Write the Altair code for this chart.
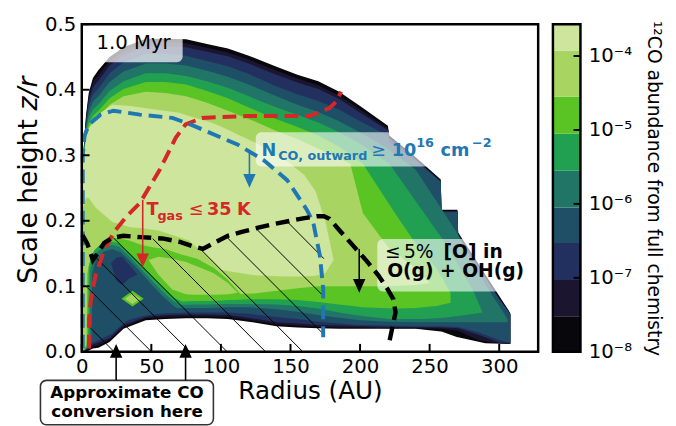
import altair as alt
import pandas as pd

FONT = "DejaVu Sans"
W, H = 464, 333
R_MAX = 328.0
Z_MAX = 0.5
CB_W = 28

XTICKS = [0, 50, 100, 150, 200, 250, 300]
YTICKS = [0.0, 0.1, 0.2, 0.3, 0.4, 0.5]

LEVEL_COLORS = ["#08080c", "#1b1530", "#22305f", "#1e4f66", "#217566",
                "#22a052", "#5ac424", "#a8d462", "#cde59c"]
CBAR_EDGES = [-8.0, -7.52, -7.03, -6.53, -6.05, -5.55, -5.05, -4.55, -3.93, -3.57]
CBAR_TICKS = [-8, -7, -6, -5, -4]
CBAR_LABELS = ["10⁻⁸", "10⁻⁷", "10⁻⁶", "10⁻⁵", "10⁻⁴"]

# ---- filled contour bands (painter order: outer level first) ----
L0_R = [1, 3, 5, 8, 12, 20, 30, 46, 60, 75, 90, 105, 120, 140, 155, 170, 185, 200, 220, 221, 240, 258, 258.5, 270, 270.5, 290, 308]
L0_HI = [0.30, 0.36, 0.395, 0.418, 0.43, 0.45, 0.465, 0.478, 0.478, 0.477, 0.470, 0.463, 0.452, 0.435, 0.423, 0.413, 0.397, 0.375, 0.345, 0.330, 0.297, 0.263, 0.217, 0.217, 0.182, 0.118, 0.059]
L0_LO = [0.0, 0.0, 0.002, 0.005, 0.006, 0.015, 0.035, 0.048, 0.05, 0.051, 0.051, 0.05, 0.046, 0.039, 0.037, 0.036, 0.035, 0.035, 0.035, 0.035, 0.035, 0.031, 0.031, 0.022, 0.022, 0.013, 0.012]

LR = [1, 3, 5, 8, 12, 20, 30, 46, 60, 75, 90, 105, 120, 140, 155, 170, 185, 200, 220, 221, 240, 258, 258.5, 270, 270.5, 285, 300, 308]
L1_HI = [0.298, 0.356, 0.39, 0.412, 0.423, 0.444, 0.459, 0.473, 0.473, 0.471, 0.464, 0.457, 0.446, 0.429, 0.417, 0.407, 0.391, 0.370, 0.341, 0.328, 0.295, 0.261, 0.215, 0.215, 0.180, 0.131, 0.082, 0.057]
L1_LO = [0.0, 0.001, 0.004, 0.008, 0.01, 0.018, 0.038, 0.051, 0.053, 0.054, 0.054, 0.053, 0.049, 0.042, 0.04, 0.038, 0.037, 0.037, 0.036, 0.036, 0.036, 0.035, 0.035, 0.032, 0.032, 0.018, 0.013, 0.012]
L2_HI = [0.296, 0.352, 0.383, 0.404, 0.414, 0.437, 0.453, 0.466, 0.466, 0.465, 0.458, 0.451, 0.440, 0.423, 0.411, 0.401, 0.386, 0.365, 0.338, 0.326, 0.293, 0.260, 0.214, 0.214, 0.179, 0.13, 0.081, 0.057]
L2_LO = [0.0, 0.002, 0.006, 0.011, 0.014, 0.021, 0.041, 0.053, 0.056, 0.057, 0.057, 0.056, 0.052, 0.045, 0.043, 0.041, 0.04, 0.039, 0.038, 0.038, 0.038, 0.037, 0.037, 0.036, 0.036, 0.026, 0.014, 0.013]
L3_HI = [0.294, 0.347, 0.375, 0.393, 0.402, 0.425, 0.442, 0.455, 0.455, 0.452, 0.444, 0.436, 0.424, 0.405, 0.393, 0.383, 0.370, 0.352, 0.330, 0.320, 0.292, 0.259, 0.213, 0.213, 0.178, 0.129, 0.08, 0.057]
L3_LO = [0.0, 0.003, 0.008, 0.014, 0.018, 0.026, 0.046, 0.056, 0.059, 0.06, 0.06, 0.06, 0.058, 0.053, 0.05, 0.046, 0.043, 0.041, 0.04, 0.04, 0.039, 0.039, 0.039, 0.038, 0.038, 0.03, 0.018, 0.014]

L4_R = [1, 3, 5, 8, 12, 20, 30, 46, 60, 75, 90, 105, 120, 140, 155, 170, 185, 200, 220, 240, 258, 270, 285, 300, 306]
L4_HI = [0.292, 0.342, 0.366, 0.382, 0.39, 0.412, 0.428, 0.44, 0.44, 0.437, 0.429, 0.42, 0.408, 0.39, 0.377, 0.366, 0.352, 0.335, 0.31, 0.278, 0.22, 0.18, 0.12, 0.07, 0.05]
L4_LO = [0.0, 0.004, 0.01, 0.017, 0.022, 0.03, 0.052, 0.062, 0.066, 0.067, 0.067, 0.068, 0.068, 0.065, 0.061, 0.056, 0.052, 0.048, 0.046, 0.045, 0.045, 0.045, 0.045, 0.045, 0.045]

L5_R = [1, 3, 5, 8, 12, 20, 30, 46, 60, 75, 90, 105, 120, 140, 155, 170, 185, 200, 221, 246, 260, 272, 282, 288]
L5_HI = [0.29, 0.337, 0.357, 0.37, 0.378, 0.398, 0.413, 0.425, 0.425, 0.421, 0.413, 0.403, 0.39, 0.373, 0.362, 0.35, 0.335, 0.318, 0.287, 0.212, 0.17, 0.127, 0.09, 0.06]
L5_LO = [0.0, 0.005, 0.012, 0.02, 0.026, 0.035, 0.057, 0.067, 0.071, 0.072, 0.072, 0.073, 0.073, 0.072, 0.07, 0.066, 0.06, 0.055, 0.05, 0.05, 0.052, 0.055, 0.058, 0.06]

L6_R = [1, 3, 5, 8, 12, 20, 30, 46, 60, 75, 90, 105, 120, 140, 155, 170, 185, 202, 225, 240, 255, 265]
L6_HI = [0.288, 0.332, 0.348, 0.36, 0.368, 0.387, 0.401, 0.412, 0.412, 0.408, 0.398, 0.387, 0.373, 0.355, 0.343, 0.33, 0.313, 0.287, 0.212, 0.165, 0.127, 0.09]
L6_LO = [0.0, 0.006, 0.014, 0.023, 0.03, 0.04, 0.062, 0.072, 0.076, 0.077, 0.078, 0.079, 0.08, 0.08, 0.079, 0.076, 0.072, 0.068, 0.066, 0.067, 0.07, 0.075]

L7_R = [1, 3, 5, 8, 12, 20, 30, 46, 60, 75, 90, 105, 124, 140, 155, 170, 185, 193, 202, 220, 240, 250]
L7_HI = [0.286, 0.326, 0.342, 0.35, 0.358, 0.377, 0.39, 0.397, 0.395, 0.39, 0.38, 0.368, 0.352, 0.337, 0.325, 0.31, 0.295, 0.287, 0.212, 0.16, 0.127, 0.105]
L7_LO = [0.0, 0.01, 0.03, 0.06, 0.08, 0.085, 0.088, 0.088, 0.087, 0.086, 0.087, 0.088, 0.089, 0.093, 0.097, 0.1, 0.1, 0.1, 0.1, 0.1, 0.102, 0.105]

L8_R = [1, 3, 5, 10, 22, 35, 45, 55, 70, 77, 93, 100, 124, 145, 160, 168, 175, 178, 181]
L8_HI = [0.284, 0.325, 0.34, 0.36, 0.377, 0.375, 0.372, 0.369, 0.365, 0.36, 0.35, 0.344, 0.32, 0.295, 0.27, 0.245, 0.2, 0.17, 0.14]
L8_LO = [0.22, 0.235, 0.235, 0.22, 0.198, 0.19, 0.188, 0.185, 0.175, 0.17, 0.14, 0.125, 0.117, 0.115, 0.115, 0.116, 0.12, 0.13, 0.14]

# depleted island near the midplane
I6_R = [3.5, 4, 6, 8, 11, 15, 24, 34, 43, 52, 60, 71, 83, 95, 105, 115]
I6_HI = [0.01, 0.12, 0.14, 0.15, 0.159, 0.167, 0.174, 0.17, 0.163, 0.159, 0.157, 0.149, 0.142, 0.128, 0.11, 0.086]
I6_LO = [0.01, 0.01, 0.016, 0.023, 0.028, 0.034, 0.05, 0.065, 0.071, 0.074, 0.076, 0.077, 0.078, 0.078, 0.079, 0.08]
P7_R = [48, 55, 65, 75, 80, 95, 105, 112]
P7_HI = [0.14, 0.145, 0.142, 0.137, 0.133, 0.12, 0.105, 0.09]
P7_LO = [0.14, 0.118, 0.095, 0.088, 0.087, 0.087, 0.088, 0.09]
I5_R = [4.5, 5, 7, 9, 14, 22, 26, 34, 42, 50, 58, 66, 74, 80]
I5_HI = [0.012, 0.13, 0.145, 0.155, 0.165, 0.168, 0.166, 0.152, 0.135, 0.117, 0.099, 0.083, 0.075, 0.072]
I5_LO = [0.012, 0.012, 0.017, 0.021, 0.028, 0.04, 0.048, 0.06, 0.065, 0.068, 0.07, 0.071, 0.072, 0.072]
I4_R = [5.5, 6, 8, 10, 15, 22, 27, 34, 42, 50, 58, 66, 74, 78]
I4_HI = [0.014, 0.125, 0.14, 0.15, 0.16, 0.163, 0.16, 0.146, 0.128, 0.11, 0.092, 0.077, 0.069, 0.067]
I4_LO = [0.014, 0.014, 0.018, 0.02, 0.024, 0.035, 0.042, 0.055, 0.06, 0.063, 0.066, 0.067, 0.067, 0.067]
I3_R = [7, 7.5, 9, 11, 16, 22, 28, 34, 42, 50, 58, 66, 72, 76]
I3_HI = [0.014, 0.118, 0.132, 0.142, 0.153, 0.157, 0.152, 0.14, 0.122, 0.103, 0.085, 0.07, 0.062, 0.06]
I3_LO = [0.014, 0.014, 0.015, 0.017, 0.022, 0.028, 0.04, 0.05, 0.054, 0.057, 0.059, 0.06, 0.06, 0.06]
I2_R = [21, 25, 29, 34, 40]
I2_HI = [0.135, 0.144, 0.145, 0.133, 0.118]
I2_LO = [0.135, 0.108, 0.102, 0.112, 0.118]
DIA6_R = [28.5, 36.5, 44.5]
DIA6_HI = [0.081, 0.093, 0.081]
DIA6_LO = [0.081, 0.069, 0.081]
DIA7_R = [31, 36.5, 42]
DIA7_HI = [0.081, 0.089, 0.081]
DIA7_LO = [0.081, 0.073, 0.081]

BANDS = [
    (0, L0_R, L0_LO, L0_HI), (1, LR, L1_LO, L1_HI), (2, LR, L2_LO, L2_HI),
    (3, LR, L3_LO, L3_HI), (4, L4_R, L4_LO, L4_HI), (5, L5_R, L5_LO, L5_HI),
    (6, L6_R, L6_LO, L6_HI), (7, L7_R, L7_LO, L7_HI), (8, L8_R, L8_LO, L8_HI),
    (6, I6_R, I6_LO, I6_HI), (7, P7_R, P7_LO, P7_HI), (5, I5_R, I5_LO, I5_HI),
    (4, I4_R, I4_LO, I4_HI), (3, I3_R, I3_LO, I3_HI), (2, I2_R, I2_LO, I2_HI),
    (6, DIA6_R, DIA6_LO, DIA6_HI), (7, DIA7_R, DIA7_LO, DIA7_HI),
]

# ---- boundary curves ----
RED_R = [5.2, 5.2, 6.4, 9.9, 15.7, 22.8, 32.3, 41.7, 55.8, 67.6, 74.6, 86.4, 120, 164, 178, 183, 186.4]
RED_Z = [0.005, 0.05, 0.077, 0.117, 0.152, 0.182, 0.207, 0.227, 0.277, 0.327, 0.347, 0.357, 0.36, 0.36, 0.372, 0.382, 0.397]
BLUE_R = [0.7, 0.7, 0.7, 2.0, 5.2, 13.4, 22.8, 41.7, 65.2, 79.3, 95.8, 112.3, 131.1, 147.6, 161.7, 166.4, 171.1, 173.5, 173.5]
BLUE_Z = [0.005, 0.15, 0.30, 0.33, 0.347, 0.362, 0.368, 0.362, 0.357, 0.346, 0.331, 0.316, 0.292, 0.262, 0.217, 0.197, 0.147, 0.097, 0.022]
BLACK_R = [0.5, 4, 8, 12, 16, 22, 30, 42, 58, 70, 80, 87, 95, 105, 115, 126, 138, 150, 160, 169, 174, 178, 185, 195, 205, 213, 220, 224, 225.5, 223, 220.5]
BLACK_Z = [0.178, 0.165, 0.14, 0.152, 0.166, 0.174, 0.177, 0.175, 0.173, 0.168, 0.161, 0.157, 0.166, 0.177, 0.183, 0.189, 0.195, 0.2, 0.204, 0.207, 0.207, 0.203, 0.186, 0.162, 0.138, 0.117, 0.095, 0.08, 0.06, 0.035, 0.01]

HATCH_R0 = [4, 4, 10, 22.5, 51, 84.5, 103.5, 125.5, 147]
HATCH_Z0 = [0.0411, 0.0981, 0.1441, 0.1746, 0.1727, 0.1584, 0.1765, 0.1876, 0.2000]
HATCH_R1 = [23.3, 50.1, 77.7, 104.5, 132.1, 158.9, 174, 174, 174]
HATCH_Z1 = [0, 0, 0, 0, 0, 0, 0.0264, 0.0843, 0.1422]

ARROW_R = [43.8, 120.5, 199.4]
ARROW_TOP = [0.232, 0.305, 0.157]
ARROW_HEAD = [0.1394, 0.2609, 0.1005]
ARROW_COL = ["#d62728", "#1f77b4", "#000000"]

UP_R = [24.7, 74.6]
UP_BOTTOM = [-0.0436, -0.0436]
UP_HEAD = [0.0015, 0.0015]

# ---- text annotations ----
MYR_TXT = ["1.0 Myr"]
MYR_R = [10.6]
MYR_Z = [0.4617]
MYR_BOX = [5, 72.5, 0.442, 0.484]

BLUE_TXT = ["N", "CO, outward", "≥", "10", "16", "cm", "−2"]
BLUE_TR = [129.2, 141.2, 208.0, 222.8, 240.3, 257.8, 280.4]
BLUE_TZ = [0.2992, 0.2932, 0.2992, 0.2992, 0.3128, 0.2992, 0.3128]
BLUE_SIZE = [18, 13, 18, 18, 13, 18, 13]
BLUE_BOLD = [True, True, False, True, True, True, True]
BLUE_BOX = [125, 296, 0.283, 0.335]

RED_TXT = ["T", "gas", "≤", "35", "K"]
RED_TR = [46.6, 54.4, 76.8, 90.0, 111.5]
RED_TZ = [0.209, 0.2015, 0.209, 0.209, 0.209]
RED_SIZE = [18, 13, 18, 18, 18]
RED_BOLD = [True, True, False, True, True]

O_TXT = ["≤", "5%", "[O] in", "O(g) + OH(g)"]
O_TR = [218.0, 231.5, 260.0, 219.5]
O_TZ = [0.1429, 0.1429, 0.1429, 0.1143]
O_SIZE = [19, 19, 19, 19]
O_BOLD = [False, False, True, True]
O_BOX = [212.4, 318, 0.092, 0.172]

CONV_TXT = ["Approximate CO", "conversion here"]
CONV_R = [32.5, 32.5]
CONV_Z = [-0.0707, -0.0992]
CONV_BOX = [-29.7, 94.6, -0.1113, -0.0436]

YT_TXT = ["Scale height ", "z/r"]
YT_R = [-32.2, -32.2]
YT_Z = [0.104, 0.3685]

# ---------------------------------------------------------------
XS = alt.Scale(domain=[0, R_MAX], nice=False, zero=False)
YS = alt.Scale(domain=[0, Z_MAX], nice=False, zero=False)
AX_X = alt.Axis(values=XTICKS, title="Radius (AU)", labelFontSize=20, titleFontSize=25,
                labelPadding=5, titlePadding=3, tickSize=0, labelFlush=False, labelOverlap=False)
AX_Y = alt.Axis(values=YTICKS, format=".1f", title=None, labelFontSize=20, labelPadding=6,
                tickSize=0, labelFlush=False, labelOverlap=False)


def X(f):
    return alt.X(f"{f}:Q", scale=XS, axis=AX_X)


def Y(f):
    return alt.Y(f"{f}:Q", scale=YS, axis=AX_Y)


layers = []
for lev, r, lo, hi in BANDS:
    df = pd.DataFrame({"r": r, "lo": lo, "hi": hi})
    layers.append(alt.Chart(df).mark_area(color=LEVEL_COLORS[lev], strokeWidth=0).encode(
        x=X("r"), y=Y("lo"), y2=alt.Y2("hi")))


def box(b, opacity, stroke=None):
    df = pd.DataFrame({"r1": [b[0]], "r2": [b[1]], "z1": [b[2]], "z2": [b[3]]})
    kw = dict(fill="white", fillOpacity=opacity, cornerRadius=6)
    if stroke:
        kw.update(stroke=stroke, strokeWidth=1.6)
    return alt.Chart(df).mark_rect(**kw).encode(
        x=X("r1"), x2=alt.X2("r2"), y=Y("z1"), y2=alt.Y2("z2"))


def texts(txt, r, z, size, color, bold, align="left", style="normal", angle=0):
    df = pd.DataFrame({"t": txt, "r": r, "z": z, "s": size})
    return alt.Chart(df).mark_text(
        align=align, baseline="alphabetic", font=FONT, color=color, angle=angle,
        fontWeight="bold" if bold else "normal", fontStyle=style).encode(
        x=X("r"), y=Y("z"), text="t:N", size=alt.Size("s:Q", scale=None))


def rich(txt, r, z, size, bold, color):
    out = []
    for flag in (True, False):
        idx = [i for i in range(len(txt)) if bold[i] == flag]
        if idx:
            out.append(texts([txt[i] for i in idx], [r[i] for i in idx], [z[i] for i in idx],
                             [size[i] for i in idx], color, flag))
    return out


layers.append(box(MYR_BOX, 0.7))
layers.append(texts(MYR_TXT, MYR_R, MYR_Z, [20], "black", False))

hdf = pd.DataFrame({"r0": HATCH_R0, "z0": HATCH_Z0, "r1": HATCH_R1, "z1": HATCH_Z1})
layers.append(alt.Chart(hdf).mark_rule(color="black", strokeWidth=1).encode(
    x=X("r0"), y=Y("z0"), x2=alt.X2("r1"), y2=alt.Y2("z1")))

layers.append(box(BLUE_BOX, 0.6))
layers.append(box(O_BOX, 0.6))

for r, z, col, w in [(RED_R, RED_Z, "#d62728", 4), (BLUE_R, BLUE_Z, "#1f77b4", 4),
                     (BLACK_R, BLACK_Z, "#000000", 4.5)]:
    df = pd.DataFrame({"r": r, "z": z, "i": list(range(len(r)))})
    layers.append(alt.Chart(df).mark_line(color=col, strokeWidth=w, strokeDash=[14, 7]).encode(
        x=X("r"), y=Y("z"), order="i:Q"))

DOWN = "M -0.9 -1 L 0.9 -1 L 0 1 Z"
UP = "M -0.9 1 L 0.9 1 L 0 -1 Z"
adf = pd.DataFrame({"r": ARROW_R, "top": ARROW_TOP, "head": ARROW_HEAD, "c": ARROW_COL})
layers.append(alt.Chart(adf).mark_rule(strokeWidth=1.6).encode(
    x=X("r"), y=Y("top"), y2=alt.Y2("head"), color=alt.Color("c:N", scale=None)))
layers.append(alt.Chart(adf).mark_point(shape=DOWN, filled=True, size=196, opacity=1).encode(
    x=X("r"), y=Y("head"), color=alt.Color("c:N", scale=None)))

layers += rich(BLUE_TXT, BLUE_TR, BLUE_TZ, BLUE_SIZE, BLUE_BOLD, "#1f77b4")
layers += rich(RED_TXT, RED_TR, RED_TZ, RED_SIZE, RED_BOLD, "#d62728")
layers += rich(O_TXT, O_TR, O_TZ, O_SIZE, O_BOLD, "#000000")

# inward ticks
xt = pd.DataFrame({"r": XTICKS, "z0": [0.0] * len(XTICKS), "z1": [0.012] * len(XTICKS)})
layers.append(alt.Chart(xt).mark_rule(color="black", strokeWidth=2).encode(
    x=X("r"), y=Y("z0"), y2=alt.Y2("z1")))
yt = pd.DataFrame({"z": YTICKS, "r0": [0.0] * len(YTICKS), "r1": [5.6] * len(YTICKS)})
layers.append(alt.Chart(yt).mark_rule(color="black", strokeWidth=2).encode(
    y=Y("z"), x=X("r0"), x2=alt.X2("r1")))

# frame
fdf = pd.DataFrame({"r1": [0.0], "r2": [R_MAX], "z1": [0.0], "z2": [Z_MAX]})
layers.append(alt.Chart(fdf).mark_rect(fillOpacity=0, stroke="black", strokeWidth=2.5).encode(
    x=X("r1"), x2=alt.X2("r2"), y=Y("z1"), y2=alt.Y2("z2")))

# bottom annotation
layers.append(box(CONV_BOX, 1.0, stroke="#333333"))
layers.append(texts(CONV_TXT, CONV_R, CONV_Z, [17, 17], "black", True, align="center"))
udf = pd.DataFrame({"r": UP_R, "b": UP_BOTTOM, "h": UP_HEAD})
layers.append(alt.Chart(udf).mark_rule(color="black", strokeWidth=1.6).encode(
    x=X("r"), y=Y("b"), y2=alt.Y2("h")))
layers.append(alt.Chart(udf).mark_point(shape=UP, filled=True, size=196, opacity=1, color="black").encode(
    x=X("r"), y=Y("h")))

# y-axis title (with italic z/r)
layers.append(texts(YT_TXT[:1], YT_R[:1], YT_Z[:1], [27], "black", False, angle=270))
layers.append(texts(YT_TXT[1:], YT_R[1:], YT_Z[1:], [27], "black", False, style="italic", angle=270))

main = alt.layer(*layers).properties(width=W, height=H)

# ---- colour bar ----
CBS = alt.Scale(domain=[CBAR_EDGES[0], CBAR_EDGES[-1]], nice=False, zero=False)
expr = "".join(f"datum.value == {t} ? '{l}' : " for t, l in zip(CBAR_TICKS, CBAR_LABELS)) + "''"
AX_CB = alt.Axis(orient="right", values=CBAR_TICKS, labelExpr=expr,
                 title="¹²CO abundance from full chemistry", labelFontSize=20, titleFontSize=19,
                 labelPadding=8, titlePadding=12, tickSize=0, labelFlush=False, labelOverlap=False)
cbdf = pd.DataFrame({"lo": CBAR_EDGES[:-1], "hi": CBAR_EDGES[1:], "c": LEVEL_COLORS})
cb_rect = alt.Chart(cbdf).mark_rect().encode(
    y=alt.Y("lo:Q", scale=CBS, axis=AX_CB), y2=alt.Y2("hi"),
    x=alt.value(0), x2=alt.value(CB_W), color=alt.Color("c:N", scale=None))
cbt = pd.DataFrame({"t": CBAR_TICKS})
cb_ticks = alt.Chart(cbt).mark_rule(color="black", strokeWidth=2).encode(
    y=alt.Y("t:Q", scale=CBS, axis=AX_CB), x=alt.value(CB_W - 7), x2=alt.value(CB_W))
cbf = pd.DataFrame({"lo": [CBAR_EDGES[0]], "hi": [CBAR_EDGES[-1]]})
cb_frame = alt.Chart(cbf).mark_rect(fillOpacity=0, stroke="black", strokeWidth=2.5).encode(
    y=alt.Y("lo:Q", scale=CBS, axis=AX_CB), y2=alt.Y2("hi"), x=alt.value(0), x2=alt.value(CB_W))
cbar = alt.layer(cb_rect, cb_ticks, cb_frame).properties(width=CB_W, height=H)

chart = alt.hconcat(main, cbar, spacing=11).properties(
    padding={"left": 7, "top": 3, "right": 5, "bottom": 0}
).configure_view(stroke=None).configure_axis(
    labelFont=FONT, titleFont=FONT, labelColor="black", titleColor="black",
    domain=False, grid=False, ticks=False, titleFontWeight="normal"
)

chart.save("out.html", embed_options={"renderer": "svg", "actions": False})
